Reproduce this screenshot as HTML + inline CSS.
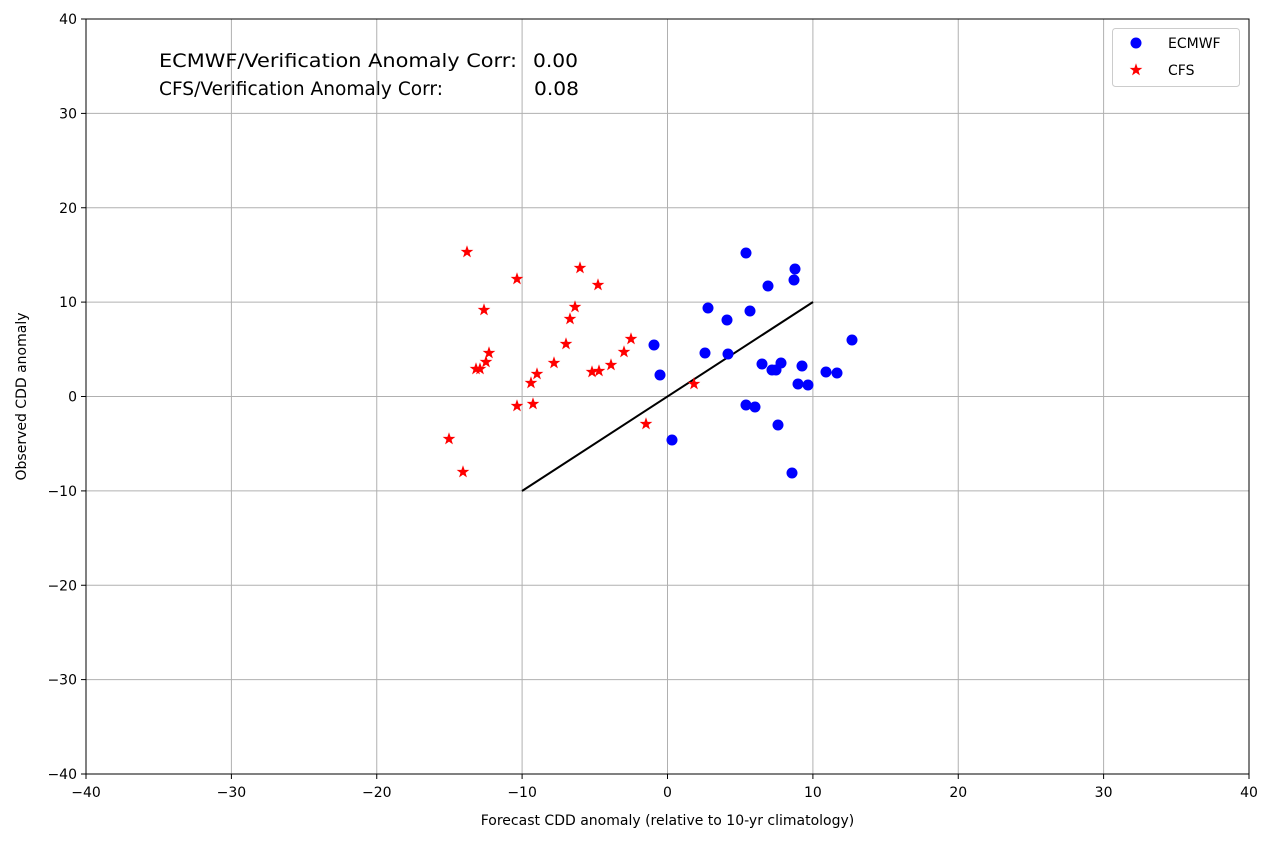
<!DOCTYPE html>
<html><head><meta charset="utf-8"><style>
html,body{margin:0;padding:0;background:#fff;}
svg text{font-family:"DejaVu Sans","Liberation Sans",sans-serif;fill:#000;}
</style></head><body>
<svg width="1272" height="842" viewBox="0 0 1272 842" xmlns="http://www.w3.org/2000/svg">
<defs>
<polygon id="st" points="0,-5.5 1.3,-1.8 5.2,-1.7 2.1,0.7 3.2,4.4 0,2.2 -3.2,4.4 -2.1,0.7 -5.2,-1.7 -1.3,-1.8" fill="#f00" stroke="#f00" stroke-width="0.8"/>
</defs>
<rect width="1272" height="842" fill="#fff"/>
<g stroke="#b0b0b0" stroke-width="1">
<line x1="231.4" y1="19" x2="231.4" y2="774"/><line x1="376.75" y1="19" x2="376.75" y2="774"/>
<line x1="522.1" y1="19" x2="522.1" y2="774"/><line x1="667.5" y1="19" x2="667.5" y2="774"/>
<line x1="812.9" y1="19" x2="812.9" y2="774"/><line x1="958.25" y1="19" x2="958.25" y2="774"/>
<line x1="1103.6" y1="19" x2="1103.6" y2="774"/>
<line x1="86" y1="113.4" x2="1249" y2="113.4"/><line x1="86" y1="207.75" x2="1249" y2="207.75"/>
<line x1="86" y1="302.1" x2="1249" y2="302.1"/><line x1="86" y1="396.5" x2="1249" y2="396.5"/>
<line x1="86" y1="490.9" x2="1249" y2="490.9"/><line x1="86" y1="585.25" x2="1249" y2="585.25"/>
<line x1="86" y1="679.6" x2="1249" y2="679.6"/>
</g>
<g stroke="#000" stroke-width="1">
<line x1="86" y1="774" x2="86" y2="779"/><line x1="231.4" y1="774" x2="231.4" y2="779"/><line x1="376.75" y1="774" x2="376.75" y2="779"/><line x1="522.1" y1="774" x2="522.1" y2="779"/><line x1="667.5" y1="774" x2="667.5" y2="779"/><line x1="812.9" y1="774" x2="812.9" y2="779"/><line x1="958.25" y1="774" x2="958.25" y2="779"/><line x1="1103.6" y1="774" x2="1103.6" y2="779"/><line x1="1249" y1="774" x2="1249" y2="779"/>
<line x1="81" y1="19" x2="86" y2="19"/><line x1="81" y1="113.4" x2="86" y2="113.4"/><line x1="81" y1="207.75" x2="86" y2="207.75"/><line x1="81" y1="302.1" x2="86" y2="302.1"/><line x1="81" y1="396.5" x2="86" y2="396.5"/><line x1="81" y1="490.9" x2="86" y2="490.9"/><line x1="81" y1="585.25" x2="86" y2="585.25"/><line x1="81" y1="679.6" x2="86" y2="679.6"/><line x1="81" y1="774" x2="86" y2="774"/>
</g>
<g font-size="14" text-anchor="middle">
<text x="86" y="797">−40</text><text x="231.4" y="797">−30</text><text x="376.75" y="797">−20</text><text x="522.1" y="797">−10</text><text x="667.5" y="797">0</text><text x="812.9" y="797">10</text><text x="958.25" y="797">20</text><text x="1103.6" y="797">30</text><text x="1249" y="797">40</text>
</g>
<g font-size="14" text-anchor="end">
<text x="77" y="24">40</text><text x="77" y="118.4">30</text><text x="77" y="212.75">20</text><text x="77" y="307.1">10</text><text x="77" y="401.5">0</text><text x="77" y="495.9">−10</text><text x="77" y="590.25">−20</text><text x="77" y="684.6">−30</text><text x="77" y="779">−40</text>
</g>
<text x="667.5" y="825" font-size="14" text-anchor="middle">Forecast CDD anomaly (relative to 10-yr climatology)</text>
<text transform="translate(26,396.5) rotate(-90)" font-size="14" text-anchor="middle">Observed CDD anomaly</text>
<line x1="522" y1="491" x2="813" y2="302" stroke="#000" stroke-width="2"/>
<g fill="#0000ff">
<circle cx="654" cy="345" r="5.5"/><circle cx="660" cy="375" r="5.5"/><circle cx="672" cy="440" r="5.5"/><circle cx="705" cy="353" r="5.5"/><circle cx="708" cy="308" r="5.5"/><circle cx="727" cy="320" r="5.5"/><circle cx="728" cy="354" r="5.5"/><circle cx="746" cy="253" r="5.5"/><circle cx="746" cy="405" r="5.5"/><circle cx="750" cy="311" r="5.5"/><circle cx="755" cy="407" r="5.5"/><circle cx="762" cy="364" r="5.5"/><circle cx="768" cy="286" r="5.5"/><circle cx="772" cy="370" r="5.5"/><circle cx="776" cy="370" r="5.5"/><circle cx="778" cy="425" r="5.5"/><circle cx="781" cy="363" r="5.5"/><circle cx="792" cy="473" r="5.5"/><circle cx="794" cy="280" r="5.5"/><circle cx="795" cy="269" r="5.5"/><circle cx="798" cy="384" r="5.5"/><circle cx="802" cy="366" r="5.5"/><circle cx="808" cy="385" r="5.5"/><circle cx="826" cy="372" r="5.5"/><circle cx="837" cy="373" r="5.5"/><circle cx="852" cy="340" r="5.5"/>
</g>
<g>
<use href="#st" x="467" y="252"/><use href="#st" x="517" y="279"/><use href="#st" x="580" y="268"/><use href="#st" x="598" y="285"/><use href="#st" x="484" y="310"/><use href="#st" x="575" y="307"/><use href="#st" x="570" y="319"/><use href="#st" x="566" y="344"/><use href="#st" x="631" y="339"/><use href="#st" x="624" y="352"/><use href="#st" x="489" y="353"/><use href="#st" x="486" y="362"/><use href="#st" x="476" y="369"/><use href="#st" x="480" y="369"/><use href="#st" x="554" y="363"/><use href="#st" x="611" y="365"/><use href="#st" x="537" y="374"/><use href="#st" x="592" y="372"/><use href="#st" x="599" y="371"/><use href="#st" x="531" y="383"/><use href="#st" x="694" y="384"/><use href="#st" x="517" y="406"/><use href="#st" x="533" y="404"/><use href="#st" x="449" y="439"/><use href="#st" x="646" y="424"/><use href="#st" x="463" y="472"/>
</g>
<rect x="86" y="19" width="1163" height="755" fill="none" stroke="#000" stroke-width="1"/>
<text x="159" y="67" font-size="19" textLength="358" lengthAdjust="spacingAndGlyphs">ECMWF/Verification Anomaly Corr:</text>
<text x="533" y="67" font-size="19" textLength="45" lengthAdjust="spacingAndGlyphs">0.00</text>
<text x="159" y="95" font-size="19" textLength="284" lengthAdjust="spacingAndGlyphs">CFS/Verification Anomaly Corr:</text>
<text x="534" y="95" font-size="19" textLength="45" lengthAdjust="spacingAndGlyphs">0.08</text>
<rect x="1112.5" y="28.5" width="127" height="58" rx="3" fill="#fff" fill-opacity="0.8" stroke="#ccc"/>
<circle cx="1136" cy="43" r="5.5" fill="#0000ff"/>
<use href="#st" x="1136" y="70"/>
<text x="1168" y="48" font-size="14">ECMWF</text>
<text x="1168" y="75" font-size="14">CFS</text>
</svg>
</body></html>
